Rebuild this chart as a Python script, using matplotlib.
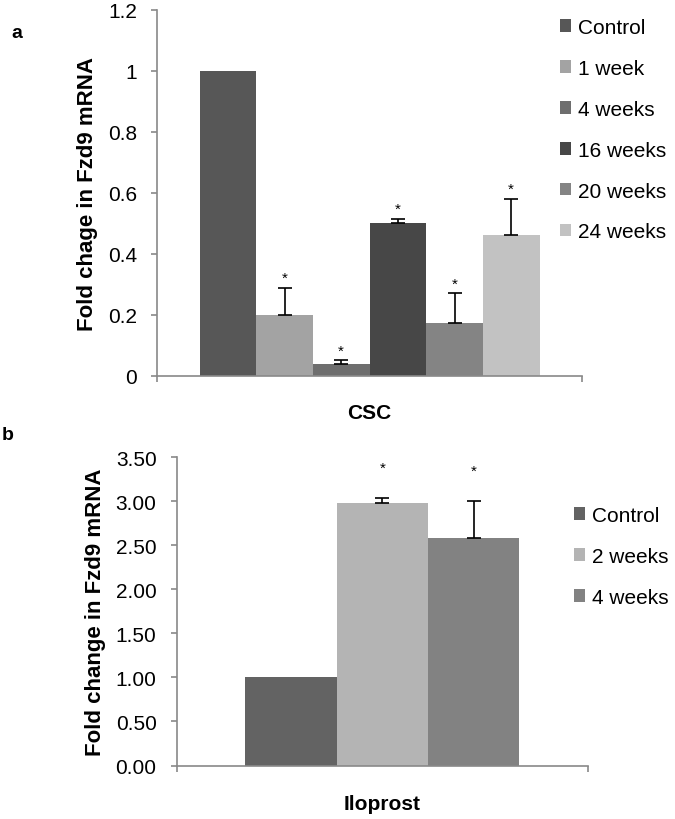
import matplotlib
matplotlib.use("Agg")
import matplotlib.pyplot as plt
from matplotlib.patches import Patch

# --- data: panel a (CSC) ---
csc_groups = ["Control", "1 week", "4 weeks", "16 weeks", "20 weeks", "24 weeks"]
csc_values = [1.0, 0.20, 0.038, 0.50, 0.172, 0.46]
csc_errors = [0.0, 0.089, 0.013, 0.014, 0.098, 0.12]
csc_signif = [False, True, True, True, True, True]
csc_colors = ["#575757", "#a3a3a3", "#6e6e6e", "#474747", "#848484", "#c2c2c2"]
csc_ticks = [0, 0.2, 0.4, 0.6, 0.8, 1, 1.2]
csc_ticklabels = ["0", "0.2", "0.4", "0.6", "0.8", "1", "1.2"]

# --- data: panel b (Iloprost) ---
ilo_groups = ["Control", "2 weeks", "4 weeks"]
ilo_values = [1.0, 2.98, 2.585]
ilo_errors = [0.0, 0.05, 0.415]
ilo_signif = [False, True, True]
ilo_colors = ["#636363", "#b4b4b4", "#828282"]
ilo_ticks = [0, 0.5, 1.0, 1.5, 2.0, 2.5, 3.0, 3.5]
ilo_ticklabels = ["0.00", "0.50", "1.00", "1.50", "2.00", "2.50", "3.00", "3.50"]

plt.rcParams["font.family"] = ["Liberation Sans", "DejaVu Sans"]
AXIS_GREY = "#898989"

W, H = 675, 820
fig = plt.figure(figsize=(W / 100, H / 100), dpi=100)


def px_axes(left, right, top, bottom):
    return fig.add_axes([left / W, 1 - bottom / H, (right - left) / W, (bottom - top) / H])


def draw_panel(ax, groups, values, errors, signif, colors, ticks, ticklabels,
               ylim, ylabel, xlabel, xlabel_y, tick_fs, star_offset,
               leg_x, leg_top, leg_spacing):
    n = len(groups)
    xs = [0.75 + i + 0.5 for i in range(n)]
    ax.bar(xs, values, width=1.0, color=colors, edgecolor="none", zorder=2)
    for x, v, e, s in zip(xs, values, errors, signif):
        if e > 0:
            ax.errorbar(x, v, yerr=[[0], [e]], fmt="none", ecolor="black",
                        elinewidth=1.2, capsize=4.8, capthick=1.2, zorder=3)
        if s:
            ax.annotate("*", xy=(x, v + e), xytext=(0, star_offset),
                        textcoords="offset points", ha="center", va="center",
                        fontsize=11)
    ax.set_xlim(0, n + 1.5)
    ax.set_ylim(*ylim)
    ax.set_yticks(ticks)
    ax.set_yticklabels(ticklabels)
    ax.set_xticks([0, n + 1.5])
    ax.set_xticklabels([])
    for side in ["top", "right"]:
        ax.spines[side].set_visible(False)
    for side in ["left", "bottom"]:
        ax.spines[side].set_color(AXIS_GREY)
        ax.spines[side].set_linewidth(1.2)
    ax.tick_params(axis="y", direction="out", length=4.5, width=1.2,
                   color=AXIS_GREY, labelsize=tick_fs, pad=10)
    ax.tick_params(axis="x", direction="out", length=4, width=1.2, color=AXIS_GREY)
    ax.set_ylabel(ylabel, fontsize=16, fontweight="bold", labelpad=7)
    fig.text(ax.get_position().x0 + ax.get_position().width / 2, 1 - xlabel_y / H,
             xlabel, ha="center", va="center", fontsize=15, fontweight="bold")

    handles = [Patch(facecolor=c, edgecolor="none") for c in colors]
    fig.legend(handles, groups, loc="upper left",
               bbox_to_anchor=(leg_x / W, 1 - leg_top / H),
               bbox_transform=fig.transFigure, frameon=False, fontsize=15,
               handlelength=0.55, handleheight=0.55, handletextpad=0.3,
               labelspacing=leg_spacing, borderpad=0, borderaxespad=0)


ax_a = px_axes(157, 582, 10.7, 376.7)
draw_panel(ax_a, csc_groups, csc_values, csc_errors, csc_signif, csc_colors,
           csc_ticks, csc_ticklabels, (0, 1.2), "Fold chage in Fzd9 mRNA",
           "CSC", 414, 15, 7, 560, 19, 1.05)

ax_b = px_axes(176.7, 588, 458, 766.5)
draw_panel(ax_b, ilo_groups, ilo_values, ilo_errors, ilo_signif, ilo_colors,
           ilo_ticks, ilo_ticklabels, (0, 3.5), "Fold change in Fzd9 mRNA",
           "Iloprost", 805, 15, 22, 574, 507, 1.05)

fig.text(17 / W, 1 - 33 / H, "a", fontsize=14, fontweight="bold", ha="center", va="center")
fig.text(8 / W, 1 - 436 / H, "b", fontsize=14, fontweight="bold", ha="center", va="center")

fig.savefig("out.png", dpi=100)
